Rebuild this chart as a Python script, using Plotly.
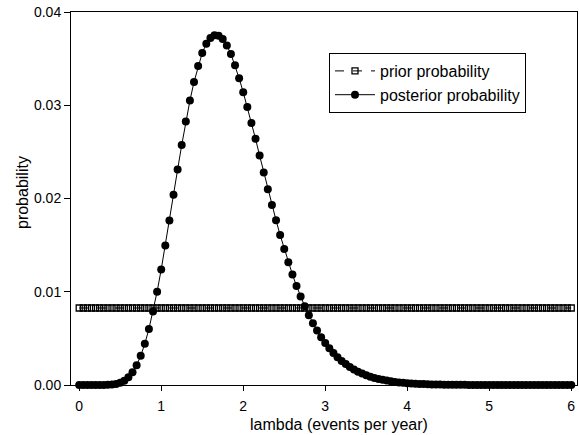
import plotly.graph_objects as go

lam = [
    0.00, 0.05, 0.10, 0.15, 0.20, 0.25, 0.30, 0.35, 0.40, 0.45,
    0.50, 0.55, 0.60, 0.65, 0.70, 0.75, 0.80, 0.85, 0.90, 0.95,
    1.00, 1.05, 1.10, 1.15, 1.20, 1.25, 1.30, 1.35, 1.40, 1.45,
    1.50, 1.55, 1.60, 1.65, 1.70, 1.75, 1.80, 1.85, 1.90, 1.95,
    2.00, 2.05, 2.10, 2.15, 2.20, 2.25, 2.30, 2.35, 2.40, 2.45,
    2.50, 2.55, 2.60, 2.65, 2.70, 2.75, 2.80, 2.85, 2.90, 2.95,
    3.00, 3.05, 3.10, 3.15, 3.20, 3.25, 3.30, 3.35, 3.40, 3.45,
    3.50, 3.55, 3.60, 3.65, 3.70, 3.75, 3.80, 3.85, 3.90, 3.95,
    4.00, 4.05, 4.10, 4.15, 4.20, 4.25, 4.30, 4.35, 4.40, 4.45,
    4.50, 4.55, 4.60, 4.65, 4.70, 4.75, 4.80, 4.85, 4.90, 4.95,
    5.00, 5.05, 5.10, 5.15, 5.20, 5.25, 5.30, 5.35, 5.40, 5.45,
    5.50, 5.55, 5.60, 5.65, 5.70, 5.75, 5.80, 5.85, 5.90, 5.95,
    6.00,
]

prior = [
    0.00826, 0.00826, 0.00826, 0.00826, 0.00826, 0.00826, 0.00826, 0.00826, 0.00826, 0.00826,
    0.00826, 0.00826, 0.00826, 0.00826, 0.00826, 0.00826, 0.00826, 0.00826, 0.00826, 0.00826,
    0.00826, 0.00826, 0.00826, 0.00826, 0.00826, 0.00826, 0.00826, 0.00826, 0.00826, 0.00826,
    0.00826, 0.00826, 0.00826, 0.00826, 0.00826, 0.00826, 0.00826, 0.00826, 0.00826, 0.00826,
    0.00826, 0.00826, 0.00826, 0.00826, 0.00826, 0.00826, 0.00826, 0.00826, 0.00826, 0.00826,
    0.00826, 0.00826, 0.00826, 0.00826, 0.00826, 0.00826, 0.00826, 0.00826, 0.00826, 0.00826,
    0.00826, 0.00826, 0.00826, 0.00826, 0.00826, 0.00826, 0.00826, 0.00826, 0.00826, 0.00826,
    0.00826, 0.00826, 0.00826, 0.00826, 0.00826, 0.00826, 0.00826, 0.00826, 0.00826, 0.00826,
    0.00826, 0.00826, 0.00826, 0.00826, 0.00826, 0.00826, 0.00826, 0.00826, 0.00826, 0.00826,
    0.00826, 0.00826, 0.00826, 0.00826, 0.00826, 0.00826, 0.00826, 0.00826, 0.00826, 0.00826,
    0.00826, 0.00826, 0.00826, 0.00826, 0.00826, 0.00826, 0.00826, 0.00826, 0.00826, 0.00826,
    0.00826, 0.00826, 0.00826, 0.00826, 0.00826, 0.00826, 0.00826, 0.00826, 0.00826, 0.00826,
    0.00826,
]

posterior = [
    0.0, 0.0, 0.0, 0.00000001, 0.0000002, 0.0000011, 0.0000049, 0.0000169, 0.0000475, 0.000114,
    0.000243, 0.000467, 0.000826, 0.00136, 0.00212, 0.00313, 0.00442, 0.00600, 0.00787, 0.01001,
    0.01239, 0.01496, 0.01764, 0.02039, 0.02310, 0.02573, 0.02825, 0.03050, 0.03250, 0.03420,
    0.03560, 0.03660, 0.03720, 0.03750, 0.03745, 0.03710, 0.03640, 0.03550, 0.03430, 0.03290,
    0.03140, 0.02980, 0.02810, 0.02640, 0.02460, 0.02280, 0.02100, 0.01930, 0.01767, 0.01608,
    0.01458, 0.01317, 0.01185, 0.01062, 0.00949, 0.00844, 0.00749, 0.00662, 0.00584, 0.00513,
    0.00450, 0.00393, 0.00343, 0.00298, 0.00258, 0.00224, 0.00193, 0.00166, 0.00143, 0.00122,
    0.00105, 0.00089, 0.00076, 0.00065, 0.00055, 0.00047, 0.00039, 0.00033, 0.00028, 0.00024,
    0.00020, 0.000166, 0.000139, 0.000116, 0.000097, 0.000081, 0.000067, 0.000056, 0.000047, 0.000039,
    0.000032, 0.000026, 0.000022, 0.000018, 0.000015, 0.000012, 0.000010, 0.0000083, 0.0000068, 0.0000056,
    0.0000046, 0.0000037, 0.0000030, 0.0000025, 0.0000020, 0.0000016, 0.0000013, 0.0000011, 0.0000009, 0.0000007,
    0.0000006, 0.0000005, 0.0000004, 0.0000003, 0.0000003, 0.0000002, 0.0000002, 0.0000001, 0.0000001, 0.0000001,
    0.0000001,
]

x_ticks = [0, 1, 2, 3, 4, 5, 6]
y_ticks = [0.00, 0.01, 0.02, 0.03, 0.04]
y_tick_text = ["0.00", "0.01", "0.02", "0.03", "0.04"]

FONT = "Liberation Sans, Arial, sans-serif"

# plot-area geometry (pixels)
L, R, T, B = 71, 2, 12, 50
W, H = 579, 435
pw = W - L - R
ph = H - T - B


def px_x(px):
    return (px - L) / pw


def px_y(py):
    return (H - B - py) / ph


fig = go.Figure()
fig.add_trace(go.Scatter(
    x=lam, y=prior, name="prior probability", mode="lines+markers",
    line=dict(color="black", width=1, dash="dash"),
    marker=dict(symbol="square-open", size=6, color="black", line=dict(width=1.3, color="black")),
    cliponaxis=False,
))
fig.add_trace(go.Scatter(
    x=lam, y=posterior, name="posterior probability", mode="lines+markers",
    line=dict(color="black", width=1),
    marker=dict(symbol="circle", size=8, color="black"),
    cliponaxis=False,
))

fig.update_layout(
    width=W, height=H,
    margin=dict(l=L, r=R, t=T, b=B),
    paper_bgcolor="white", plot_bgcolor="white",
    font=dict(family=FONT, size=14, color="black"),
    showlegend=True,
    legend=dict(
        x=px_x(329), y=px_y(53), xanchor="left", yanchor="top",
        bgcolor="white", bordercolor="black", borderwidth=1,
        font=dict(family=FONT, size=16, color="black"),
        tracegroupgap=0, itemwidth=40,
    ),
    annotations=[
        dict(text="lambda (events per year)", x=px_x(339), y=px_y(424),
             xref="paper", yref="paper", xanchor="center", yanchor="middle",
             showarrow=False, font=dict(family=FONT, size=16, color="black")),
        dict(text="probability", x=px_x(22), y=px_y(193),
             xref="paper", yref="paper", xanchor="center", yanchor="middle",
             showarrow=False, textangle=-90, font=dict(family=FONT, size=16, color="black")),
    ],
)

fig.update_xaxes(
    range=[-0.1, 6.07], tickvals=x_ticks, ticks="outside", ticklen=5, tickwidth=1,
    tickcolor="black", showline=True, linecolor="black", linewidth=1, mirror=True,
    showgrid=False, zeroline=False, tickfont=dict(family=FONT, size=14),
    ticklabelstandoff=3,
)
fig.update_yaxes(
    range=[0, 0.04], tickvals=y_ticks, ticktext=y_tick_text, ticks="outside", ticklen=6,
    tickwidth=1, tickcolor="black", showline=True, linecolor="black", linewidth=1,
    mirror=True, showgrid=False, zeroline=False, tickfont=dict(family=FONT, size=14),
)

fig.write_html("out.html")
